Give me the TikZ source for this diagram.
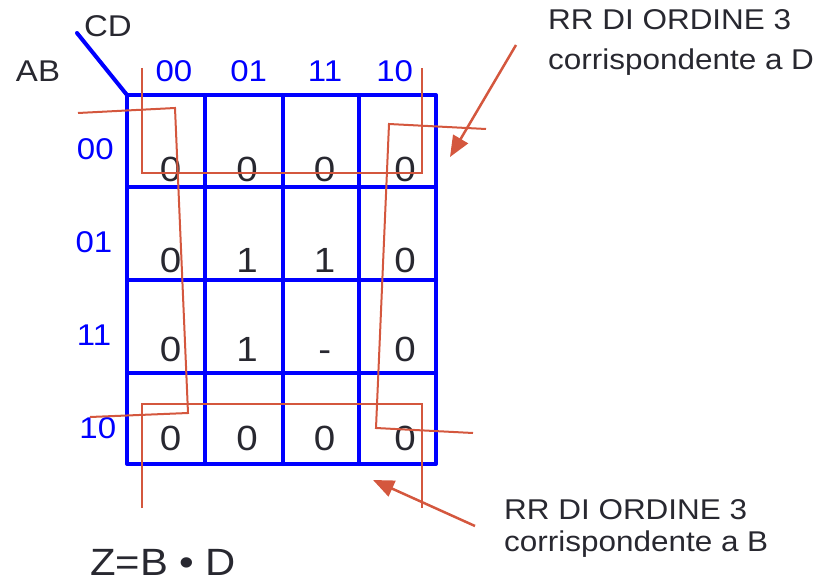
\documentclass[tikz,border=0pt]{standalone}
\usepackage{fontspec}
\setmainfont[FakeStretch=1.1]{Liberation Sans}
\usetikzlibrary{arrows.meta}
\definecolor{kblue}{RGB}{0,0,255}
\definecolor{kred}{RGB}{212,87,62}
\definecolor{ktext}{RGB}{40,40,48}
\tikzset{
  gridline/.style={draw=kblue,line width=4pt,line cap=round,line join=round},
  loopline/.style={draw=kred,line width=2pt},
  pointer/.style={draw=kred,line width=2.5pt,-{Triangle[length=21pt,width=17pt]}},
  varlabel/.style={text=ktext,font=\fontsize{30}{30}\selectfont,anchor=base,inner sep=0pt},
  codelabel/.style={text=kblue,font=\fontsize{30}{30}\selectfont,anchor=base,inner sep=0pt},
  cellval/.style={text=ktext,font=\fontsize{35}{35}\selectfont,anchor=base,inner sep=0pt},
  note/.style={text=ktext,font=\fontsize{28.6}{28.6}\selectfont,anchor=base west,inner sep=0pt},
  formula/.style={text=ktext,font=\fontsize{38}{38}\selectfont,anchor=base west,inner sep=0pt},
}
\begin{document}
\begin{tikzpicture}[x=1pt,y=-1pt]
\useasboundingbox (0,0) rectangle (818,580);

% Karnaugh map grid
\draw[gridline] (127,95) rectangle (436,464);
\foreach \gx in {205,283,359} \draw[gridline] (\gx,95) -- (\gx,464);
\foreach \gy in {187,280,373} \draw[gridline] (127,\gy) -- (436,\gy);
\draw[gridline] (77,33) -- (127,95);

% variable names
\node[varlabel] (cd) at (108,36.7) {CD};
\node[varlabel] (ab) at (38,81.7) {AB};

% column codes (CD)
\node[codelabel] (c00) at (174,82) {00};
\node[codelabel] (c01) at (248.7,82) {01};
\node[codelabel] (c11) at (325,82) {11};
\node[codelabel] (c10) at (394.7,82) {10};

% row codes (AB)
\node[codelabel] (r00) at (95.3,159.3) {00};
\node[codelabel] (r01) at (94,252.7) {01};
\node[codelabel] (r11) at (94,345) {11};
\node[codelabel] (r10) at (97.8,438.3) {10};

% cell values
\node[cellval] (v00) at (170.7,181.7) {0};
\node[cellval] (v01) at (247,181.7) {0};
\node[cellval] (v02) at (324.7,181.7) {0};
\node[cellval] (v03) at (405,181.7) {0};
\node[cellval] (v10) at (170.7,272.7) {0};
\node[cellval] (v11) at (247,272.7) {1};
\node[cellval] (v12) at (324.7,272.7) {1};
\node[cellval] (v13) at (405,272.7) {0};
\node[cellval] (v20) at (170.7,361.7) {0};
\node[cellval] (v21) at (247,361.7) {1};
\node[cellval] (v22) at (324.7,361.7) {-};
\node[cellval] (v23) at (405,361.7) {0};
\node[cellval] (v30) at (170.7,450) {0};
\node[cellval] (v31) at (247,450) {0};
\node[cellval] (v32) at (324.7,450) {0};
\node[cellval] (v33) at (405,450) {0};

% groupings of the zeros
\draw[loopline] (142,68) -- (142,173) -- (422,173) -- (422,68);
\draw[loopline] (142,508) -- (142,404) -- (422,404) -- (422,508);
\draw[loopline] (78,113) -- (175,108) -- (188,413) -- (90,417);
\draw[loopline] (486,129) -- (389,124) -- (376,428) -- (473,433);

% notes
\node[note] (noteD1) at (548,29.3) {RR DI ORDINE 3};
\node[note] (noteD2) at (548,70) {corrispondente a D};
\node[note] (noteB1) at (504,519) {RR DI ORDINE 3};
\node[note] (noteB2) at (504,551.7) {corrispondente a B};
\node[formula] (z) at (90,575) {Z=B • D};

% pointers from the notes to the groupings
\coordinate (fromD) at (516,45);
\coordinate (toD) at (450,157);
\coordinate (fromB) at (475,526);
\coordinate (toB) at (373,480);
\draw[pointer] (fromD) -- (toD);
\draw[pointer] (fromB) -- (toB);
\end{tikzpicture}
\end{document}
